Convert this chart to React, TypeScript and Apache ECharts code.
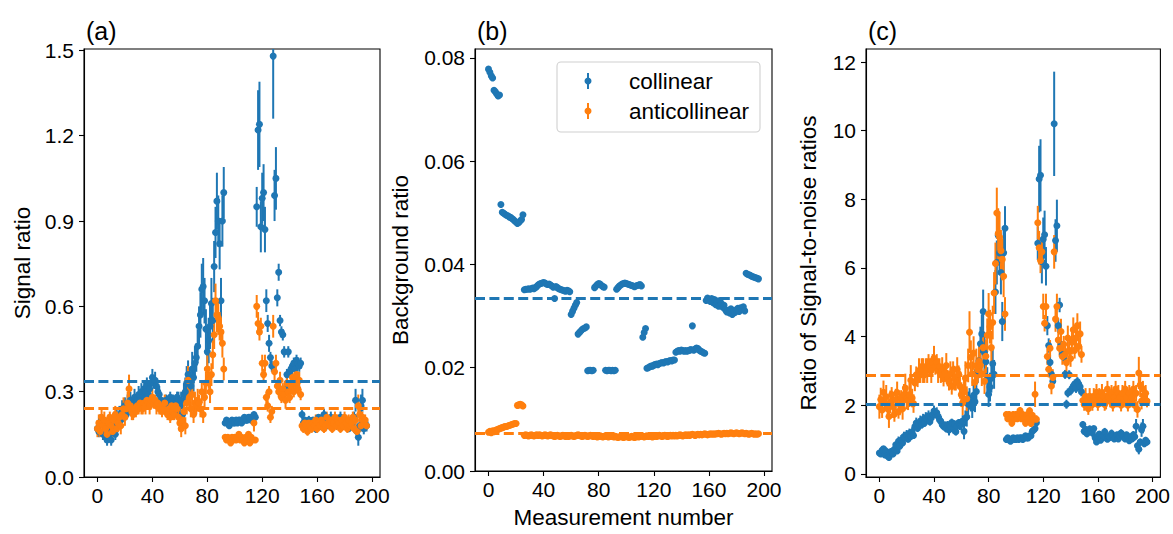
import React, { useEffect, useRef } from "react";
import * as echarts from "echarts";

// Measurement index runs 0..196 for every series.

// (a) Signal ratio
const signalCollinear = [
  0.17, 0.16, 0.19, 0.20, 0.15, 0.18, 0.14, 0.13, 0.17, 0.15,
  0.13, 0.16, 0.19, 0.15, 0.21, 0.18, 0.22, 0.20, 0.24, 0.23,
  0.25, 0.22, 0.26, 0.24, 0.27, 0.25, 0.26, 0.28, 0.25, 0.27,
  0.29, 0.27, 0.30, 0.28, 0.31, 0.30, 0.32, 0.29, 0.31, 0.33,
  0.35, 0.33, 0.34, 0.32, 0.30, 0.29, 0.27, 0.26, 0.26, 0.25,
  0.27, 0.24, 0.26, 0.28, 0.25, 0.27, 0.23, 0.26, 0.28, 0.27,
  0.25, 0.27, 0.22, 0.29, 0.30, 0.33, 0.36, 0.34, 0.32, 0.38,
  0.35, 0.40, 0.42, 0.46, 0.53, 0.57, 0.66, 0.67, 0.62, 0.52,
  0.44, 0.48, 0.53, 0.61, 0.55, 0.74, 0.86, 0.97, 0.90, 0.82,
  0.62, 0.90, 1.00, 0.19, 0.20, 0.19, 0.18, 0.19, 0.20, 0.19,
  0.19, 0.20, 0.19, 0.20, 0.20, 0.19, 0.20, 0.21, 0.20, 0.20,
  0.21, 0.21, 0.20, 0.21, 0.22, 0.21, 0.95, 1.22, 1.24, 0.88,
  0.98, 1.00, 0.87, 0.62, 0.54, 0.47, 0.42, 0.39, 1.48, 0.99,
  1.05, 0.63, 0.72, 0.55, 0.51, 0.50, 0.44, 0.31, 0.36, 0.44,
  0.37, 0.38, 0.39, 0.40, 0.38, 0.41, 0.40, 0.39, 0.40, 0.22,
  0.19, 0.20, 0.18, 0.19, 0.20, 0.19, 0.18, 0.20, 0.19, 0.17,
  0.20, 0.21, 0.18, 0.19, 0.20, 0.22, 0.19, 0.18, 0.20, 0.19,
  0.21, 0.20, 0.18, 0.19, 0.20, 0.18, 0.19, 0.21, 0.20, 0.19,
  0.18, 0.20, 0.19, 0.17, 0.19, 0.18, 0.20, 0.21, 0.27, 0.16,
  0.14, 0.18, 0.25, 0.27, 0.17, 0.19, 0.18,
];
const signalCollinearErr = [
  0.02, 0.02, 0.03, 0.02, 0.02, 0.03, 0.02, 0.02, 0.03, 0.02,
  0.02, 0.03, 0.02, 0.02, 0.03, 0.02, 0.03, 0.02, 0.03, 0.02,
  0.03, 0.02, 0.03, 0.02, 0.03, 0.02, 0.02, 0.03, 0.02, 0.02,
  0.03, 0.02, 0.03, 0.02, 0.03, 0.02, 0.03, 0.02, 0.02, 0.03,
  0.03, 0.02, 0.03, 0.02, 0.02, 0.03, 0.02, 0.02, 0.02, 0.02,
  0.02, 0.03, 0.02, 0.02, 0.03, 0.02, 0.02, 0.03, 0.02, 0.03,
  0.03, 0.03, 0.04, 0.04, 0.05, 0.06, 0.05, 0.04, 0.05, 0.06,
  0.05, 0.06, 0.05, 0.06, 0.07, 0.08, 0.09, 0.10, 0.08, 0.07,
  0.07, 0.08, 0.08, 0.09, 0.08, 0.09, 0.09, 0.10, 0.09, 0.09,
  0.08, 0.09, 0.09, 0.01, 0.01, 0.01, 0.01, 0.01, 0.01, 0.01,
  0.01, 0.01, 0.01, 0.01, 0.01, 0.01, 0.01, 0.01, 0.01, 0.01,
  0.01, 0.01, 0.01, 0.01, 0.01, 0.01, 0.07, 0.14, 0.15, 0.09,
  0.09, 0.10, 0.08, 0.04, 0.03, 0.03, 0.02, 0.02, 0.22, 0.09,
  0.11, 0.03, 0.03, 0.02, 0.02, 0.02, 0.02, 0.02, 0.02, 0.02,
  0.02, 0.02, 0.02, 0.02, 0.02, 0.02, 0.02, 0.02, 0.02, 0.015,
  0.015, 0.01, 0.015, 0.01, 0.015, 0.01, 0.015, 0.01, 0.015, 0.015,
  0.015, 0.01, 0.015, 0.015, 0.01, 0.02, 0.015, 0.01, 0.015, 0.015,
  0.02, 0.015, 0.01, 0.015, 0.015, 0.01, 0.015, 0.02, 0.015, 0.015,
  0.01, 0.015, 0.015, 0.01, 0.015, 0.015, 0.02, 0.02, 0.04, 0.02,
  0.03, 0.02, 0.04, 0.04, 0.02, 0.02, 0.02,
];
const signalAnti = [
  0.17, 0.19, 0.16, 0.21, 0.18, 0.20, 0.17, 0.15, 0.19, 0.21,
  0.18, 0.16, 0.20, 0.22, 0.17, 0.19, 0.21, 0.18, 0.22, 0.24,
  0.21, 0.24, 0.26, 0.31, 0.25, 0.23, 0.22, 0.24, 0.23, 0.25,
  0.24, 0.26, 0.25, 0.24, 0.26, 0.25, 0.27, 0.26, 0.25, 0.27,
  0.28, 0.26, 0.27, 0.25, 0.26, 0.24, 0.25, 0.23, 0.24, 0.26,
  0.23, 0.22, 0.24, 0.21, 0.25, 0.23, 0.22, 0.25, 0.24, 0.21,
  0.19, 0.17, 0.20, 0.23, 0.18, 0.26, 0.34, 0.28, 0.24, 0.29,
  0.22, 0.26, 0.25, 0.27, 0.26, 0.24, 0.30, 0.22, 0.28, 0.33,
  0.38, 0.35, 0.30, 0.36, 0.43, 0.50, 0.62, 0.57, 0.56, 0.53,
  0.51, 0.47, 0.38, 0.14, 0.13, 0.14, 0.13, 0.12, 0.14, 0.13,
  0.14, 0.13, 0.14, 0.15, 0.13, 0.14, 0.13, 0.12, 0.14, 0.13,
  0.15, 0.12, 0.14, 0.13, 0.19, 0.13, 0.60, 0.54, 0.51, 0.53,
  0.40, 0.36, 0.40, 0.28, 0.25, 0.30, 0.21, 0.23, 0.53, 0.37,
  0.40, 0.32, 0.30, 0.34, 0.28, 0.31, 0.29, 0.27, 0.33, 0.30,
  0.28, 0.32, 0.35, 0.30, 0.33, 0.36, 0.31, 0.34, 0.29, 0.18,
  0.17, 0.19, 0.18, 0.16, 0.19, 0.18, 0.17, 0.19, 0.18, 0.20,
  0.17, 0.19, 0.18, 0.20, 0.19, 0.17, 0.18, 0.21, 0.19, 0.18,
  0.20, 0.17, 0.19, 0.21, 0.18, 0.20, 0.19, 0.17, 0.20, 0.18,
  0.21, 0.19, 0.17, 0.20, 0.18, 0.19, 0.21, 0.17, 0.20, 0.16,
  0.25, 0.22, 0.18, 0.21, 0.19, 0.20, 0.18,
];
const signalAntiErr = [
  0.03, 0.03, 0.02, 0.03, 0.02, 0.03, 0.02, 0.03, 0.03, 0.02,
  0.03, 0.02, 0.03, 0.03, 0.02, 0.03, 0.02, 0.03, 0.03, 0.04,
  0.03, 0.03, 0.04, 0.05, 0.03, 0.03, 0.02, 0.02, 0.02, 0.03,
  0.02, 0.02, 0.03, 0.02, 0.02, 0.03, 0.02, 0.02, 0.03, 0.02,
  0.03, 0.02, 0.02, 0.03, 0.02, 0.02, 0.03, 0.02, 0.02, 0.03,
  0.02, 0.02, 0.03, 0.02, 0.02, 0.03, 0.02, 0.03, 0.02, 0.03,
  0.03, 0.03, 0.03, 0.04, 0.03, 0.04, 0.05, 0.04, 0.03, 0.04,
  0.03, 0.04, 0.03, 0.04, 0.03, 0.03, 0.04, 0.03, 0.04, 0.04,
  0.05, 0.04, 0.04, 0.04, 0.05, 0.05, 0.06, 0.06, 0.06, 0.05,
  0.05, 0.05, 0.04, 0.008, 0.008, 0.008, 0.008, 0.008, 0.008, 0.008,
  0.008, 0.008, 0.008, 0.008, 0.008, 0.008, 0.008, 0.008, 0.008, 0.008,
  0.008, 0.008, 0.008, 0.008, 0.03, 0.008, 0.04, 0.04, 0.03, 0.03,
  0.03, 0.02, 0.03, 0.02, 0.02, 0.02, 0.02, 0.02, 0.04, 0.03,
  0.03, 0.02, 0.02, 0.03, 0.02, 0.02, 0.02, 0.03, 0.03, 0.02,
  0.02, 0.03, 0.03, 0.02, 0.03, 0.03, 0.02, 0.03, 0.02, 0.015,
  0.015, 0.02, 0.015, 0.015, 0.02, 0.015, 0.015, 0.02, 0.015, 0.02,
  0.015, 0.02, 0.015, 0.02, 0.015, 0.015, 0.02, 0.02, 0.015, 0.015,
  0.02, 0.015, 0.015, 0.02, 0.015, 0.02, 0.015, 0.015, 0.02, 0.015,
  0.02, 0.015, 0.015, 0.02, 0.015, 0.02, 0.02, 0.015, 0.02, 0.02,
  0.04, 0.03, 0.02, 0.02, 0.02, 0.02, 0.015,
];

// (b) Background ratio
const backgroundCollinear = [
  0.0778, 0.0772, 0.0765, 0.0761, 0.0737, 0.0734, 0.0730, 0.0726, 0.0728, 0.0516,
  0.0501, 0.0499, 0.0497, 0.0495, 0.0494, 0.0492, 0.0491, 0.0489, 0.0487, 0.0484,
  0.0482, 0.0479, 0.0481, 0.0484, 0.0487, 0.0496, 0.0351, 0.0352, 0.0352, 0.0353,
  0.0352, 0.0353, 0.0354, 0.0353, 0.0355, 0.0357, 0.0360, 0.0362, 0.0363, 0.0364,
  0.0365, 0.0364, 0.0362, 0.0361, 0.0362, 0.0360, 0.0358, 0.0356, 0.0334, 0.0357,
  0.0355, 0.0353, 0.0352, 0.0351, 0.0350, 0.0349, 0.0348, 0.0350, 0.0349, 0.0347,
  0.0303, 0.0309, 0.0315, 0.0321, 0.0326, 0.0265, 0.0268, 0.0271, 0.0274, 0.0276,
  0.0277, 0.0279, 0.0194, 0.0195, 0.0195, 0.0194, 0.0195, 0.0355, 0.0358, 0.0361,
  0.0363, 0.0362, 0.0359, 0.0357, 0.0356, 0.0195, 0.0194, 0.0195, 0.0195, 0.0194,
  0.0195, 0.0194, 0.0195, 0.0352, 0.0355, 0.0358, 0.0360, 0.0362, 0.0363, 0.0364,
  0.0363, 0.0362, 0.0361, 0.0360, 0.0359, 0.0358, 0.0357, 0.0358, 0.0359, 0.0360,
  0.0361, 0.0358, 0.0259, 0.0268, 0.0276, 0.0199, 0.0200, 0.0202, 0.0203, 0.0203,
  0.0205, 0.0206, 0.0207, 0.0206, 0.0208, 0.0209, 0.0210, 0.0209, 0.0211, 0.0212,
  0.0211, 0.0213, 0.0214, 0.0213, 0.0215, 0.0215, 0.0230, 0.0232, 0.0233, 0.0232,
  0.0234, 0.0233, 0.0232, 0.0233, 0.0232, 0.0233, 0.0234, 0.0235, 0.0281, 0.0234,
  0.0236, 0.0238, 0.0237, 0.0234, 0.0232, 0.0231, 0.0229, 0.0228, 0.0330, 0.0335,
  0.0331, 0.0328, 0.0334, 0.0326, 0.0332, 0.0322, 0.0329, 0.0319, 0.0330, 0.0324,
  0.0317, 0.0321, 0.0312, 0.0308, 0.0311, 0.0306, 0.0314, 0.0303, 0.0310, 0.0307,
  0.0312, 0.0315, 0.0309, 0.0316, 0.0313, 0.0318, 0.0310, 0.0383, 0.0381, 0.0380,
  0.0379, 0.0377, 0.0376, 0.0375, 0.0374, 0.0373, 0.0372,
];
const backgroundAnti = [
  0.0075, 0.0077, 0.0074, 0.0078, 0.0076, 0.0079, 0.0080, 0.0081, 0.0082, 0.0083,
  0.0084, 0.0085, 0.0086, 0.0086, 0.0087, 0.0088, 0.0089, 0.0090, 0.0091, 0.0092,
  0.0092, 0.0127, 0.0128, 0.0129, 0.0128, 0.0126, 0.0069, 0.0070, 0.0069, 0.0068,
  0.0069, 0.0070, 0.0069, 0.0068, 0.0069, 0.0070, 0.0069, 0.0070, 0.0069, 0.0068,
  0.0069, 0.0070, 0.0069, 0.0068, 0.0069, 0.0070, 0.0069, 0.0068, 0.0067, 0.0068,
  0.0069, 0.0068, 0.0067, 0.0068, 0.0069, 0.0068, 0.0067, 0.0068, 0.0067, 0.0068,
  0.0069, 0.0068, 0.0067, 0.0068, 0.0069, 0.0070, 0.0069, 0.0068, 0.0067, 0.0068,
  0.0069, 0.0068, 0.0067, 0.0068, 0.0069, 0.0068, 0.0067, 0.0068, 0.0067, 0.0066,
  0.0067, 0.0068, 0.0067, 0.0066, 0.0067, 0.0068, 0.0067, 0.0066, 0.0067, 0.0068,
  0.0067, 0.0066, 0.0067, 0.0066, 0.0065, 0.0066, 0.0067, 0.0066, 0.0065, 0.0066,
  0.0067, 0.0066, 0.0065, 0.0066, 0.0067, 0.0066, 0.0065, 0.0066, 0.0067, 0.0066,
  0.0067, 0.0068, 0.0067, 0.0066, 0.0067, 0.0068, 0.0067, 0.0068, 0.0067, 0.0066,
  0.0067, 0.0068, 0.0067, 0.0068, 0.0069, 0.0068, 0.0067, 0.0068, 0.0069, 0.0068,
  0.0067, 0.0068, 0.0069, 0.0068, 0.0069, 0.0068, 0.0069, 0.0068, 0.0069, 0.0070,
  0.0069, 0.0068, 0.0069, 0.0070, 0.0069, 0.0070, 0.0069, 0.0070, 0.0071, 0.0070,
  0.0069, 0.0070, 0.0071, 0.0070, 0.0071, 0.0070, 0.0071, 0.0072, 0.0071, 0.0070,
  0.0071, 0.0072, 0.0071, 0.0072, 0.0071, 0.0072, 0.0072, 0.0073, 0.0072, 0.0071,
  0.0072, 0.0073, 0.0072, 0.0073, 0.0072, 0.0073, 0.0074, 0.0073, 0.0072, 0.0073,
  0.0074, 0.0073, 0.0072, 0.0073, 0.0074, 0.0073, 0.0072, 0.0073, 0.0072, 0.0071,
  0.0072, 0.0073, 0.0072, 0.0071, 0.0072, 0.0071, 0.0072,
];

// (c) Ratio of signal-to-noise ratios
const snrCollinear = [
  0.61, 0.58, 0.69, 0.73, 0.55, 0.66, 0.52, 0.48, 0.63, 0.66,
  0.58, 0.72, 0.85, 0.67, 0.95, 0.81, 0.99, 0.90, 1.09, 1.05,
  1.14, 1.01, 1.18, 1.09, 1.22, 1.12, 1.38, 1.48, 1.33, 1.43,
  1.54, 1.43, 1.59, 1.48, 1.64, 1.59, 1.69, 1.52, 1.63, 1.73,
  1.83, 1.73, 1.78, 1.68, 1.58, 1.53, 1.43, 1.38, 1.42, 1.32,
  1.43, 1.28, 1.39, 1.50, 1.34, 1.45, 1.23, 1.39, 1.49, 1.44,
  1.44, 1.54, 1.24, 1.62, 1.66, 2.03, 2.20, 2.06, 1.93, 2.29,
  2.10, 2.40, 3.01, 3.29, 3.79, 4.08, 4.73, 3.53, 3.27, 2.74,
  2.32, 2.53, 2.79, 3.21, 2.90, 5.30, 6.16, 6.95, 6.44, 5.87,
  4.44, 6.44, 7.16, 1.00, 1.05, 1.00, 0.95, 1.00, 1.05, 1.00,
  1.00, 1.05, 1.00, 1.05, 1.05, 1.00, 1.05, 1.11, 1.05, 1.05,
  1.11, 1.11, 1.24, 1.28, 1.32, 1.49, 6.72, 8.59, 8.70, 6.18,
  6.84, 6.97, 6.05, 4.32, 3.74, 3.25, 2.90, 2.70, 10.2, 6.80,
  7.23, 4.32, 4.92, 3.77, 3.48, 3.41, 2.90, 2.03, 2.36, 2.89,
  2.42, 2.49, 2.56, 2.62, 2.49, 2.69, 2.62, 2.54, 2.39, 1.44,
  1.24, 1.30, 1.17, 1.24, 1.31, 1.25, 1.19, 1.32, 1.05, 0.93,
  1.10, 1.16, 0.98, 1.05, 1.10, 1.23, 1.05, 1.01, 1.10, 1.06,
  1.18, 1.12, 1.02, 1.08, 1.14, 1.02, 1.08, 1.19, 1.14, 1.08,
  1.02, 1.14, 1.08, 0.97, 1.08, 1.02, 1.14, 1.08, 1.39, 0.82,
  0.72, 0.93, 1.29, 1.39, 0.88, 0.98, 0.93,
];
const snrCollinearErr = [
  0.07, 0.07, 0.11, 0.07, 0.07, 0.11, 0.07, 0.07, 0.11, 0.09,
  0.09, 0.14, 0.09, 0.09, 0.14, 0.09, 0.14, 0.09, 0.14, 0.09,
  0.14, 0.09, 0.14, 0.09, 0.14, 0.09, 0.11, 0.16, 0.11, 0.11,
  0.16, 0.11, 0.16, 0.11, 0.16, 0.11, 0.16, 0.11, 0.11, 0.16,
  0.16, 0.11, 0.16, 0.11, 0.11, 0.16, 0.11, 0.11, 0.11, 0.11,
  0.11, 0.16, 0.11, 0.11, 0.16, 0.11, 0.11, 0.16, 0.11, 0.16,
  0.17, 0.17, 0.23, 0.23, 0.28, 0.37, 0.30, 0.24, 0.30, 0.37,
  0.30, 0.37, 0.36, 0.43, 0.50, 0.57, 0.64, 0.53, 0.42, 0.37,
  0.37, 0.42, 0.42, 0.47, 0.42, 0.64, 0.64, 0.72, 0.64, 0.64,
  0.57, 0.64, 0.64, 0.05, 0.05, 0.05, 0.05, 0.05, 0.05, 0.05,
  0.05, 0.05, 0.05, 0.05, 0.05, 0.05, 0.05, 0.05, 0.05, 0.05,
  0.05, 0.05, 0.06, 0.06, 0.06, 0.07, 0.49, 0.97, 1.05, 0.63,
  0.63, 0.70, 0.56, 0.28, 0.21, 0.21, 0.14, 0.14, 1.52, 0.62,
  0.76, 0.21, 0.21, 0.14, 0.14, 0.14, 0.13, 0.13, 0.13, 0.13,
  0.13, 0.13, 0.13, 0.13, 0.13, 0.13, 0.13, 0.13, 0.13, 0.10,
  0.10, 0.07, 0.10, 0.07, 0.10, 0.07, 0.10, 0.07, 0.08, 0.08,
  0.08, 0.06, 0.08, 0.08, 0.06, 0.11, 0.08, 0.06, 0.08, 0.08,
  0.11, 0.08, 0.06, 0.09, 0.09, 0.06, 0.09, 0.11, 0.09, 0.09,
  0.06, 0.09, 0.09, 0.06, 0.09, 0.09, 0.11, 0.10, 0.21, 0.10,
  0.15, 0.10, 0.21, 0.21, 0.10, 0.10, 0.10,
];
const snrAnti = [
  1.96, 2.17, 1.86, 2.38, 2.06, 2.25, 1.90, 1.67, 2.10, 2.31,
  1.96, 1.74, 2.16, 2.37, 1.82, 2.03, 2.23, 1.90, 2.31, 2.50,
  2.19, 2.13, 2.30, 2.73, 2.21, 2.05, 2.65, 2.89, 2.77, 3.01,
  2.89, 3.13, 3.01, 2.89, 3.13, 3.01, 3.25, 3.13, 3.01, 3.25,
  3.37, 3.13, 3.25, 3.01, 3.13, 2.89, 3.04, 2.79, 2.92, 3.16,
  2.79, 2.67, 2.92, 2.55, 3.04, 2.79, 2.67, 3.04, 2.92, 2.55,
  2.31, 2.07, 2.43, 2.79, 2.19, 3.16, 4.13, 3.40, 2.92, 3.52,
  2.67, 3.16, 3.04, 3.28, 3.16, 2.92, 3.68, 2.70, 3.43, 4.04,
  4.66, 4.29, 3.68, 4.41, 5.27, 6.13, 7.60, 7.00, 6.90, 6.50,
  6.25, 5.76, 4.66, 1.73, 1.61, 1.73, 1.61, 1.48, 1.73, 1.61,
  1.73, 1.61, 1.73, 1.85, 1.61, 1.73, 1.61, 1.48, 1.72, 1.60,
  1.84, 1.47, 1.71, 1.59, 2.32, 1.59, 7.32, 6.59, 6.22, 6.47,
  4.88, 4.39, 4.88, 3.42, 3.05, 3.66, 2.56, 2.81, 6.47, 4.51,
  4.88, 3.90, 3.66, 4.15, 3.42, 3.78, 3.48, 3.24, 3.96, 3.60,
  3.36, 3.84, 4.20, 3.60, 3.96, 4.32, 3.72, 4.08, 3.48, 2.14,
  2.02, 2.26, 2.14, 1.90, 2.26, 2.14, 2.02, 2.26, 2.14, 2.38,
  2.02, 2.26, 2.14, 2.38, 2.26, 2.02, 2.12, 2.47, 2.23, 2.12,
  2.35, 2.00, 2.23, 2.47, 2.12, 2.35, 2.23, 2.00, 2.35, 2.12,
  2.47, 2.23, 2.00, 2.35, 2.12, 2.23, 2.47, 2.00, 2.35, 1.88,
  2.94, 2.59, 2.12, 2.47, 2.23, 2.35, 2.12,
];
const snrAntiErr = [
  0.35, 0.34, 0.23, 0.34, 0.23, 0.34, 0.22, 0.33, 0.33, 0.22,
  0.33, 0.22, 0.32, 0.32, 0.21, 0.32, 0.21, 0.32, 0.31, 0.42,
  0.31, 0.27, 0.35, 0.44, 0.27, 0.27, 0.24, 0.24, 0.24, 0.36,
  0.24, 0.24, 0.36, 0.24, 0.24, 0.36, 0.24, 0.24, 0.36, 0.24,
  0.36, 0.24, 0.24, 0.36, 0.24, 0.24, 0.36, 0.24, 0.24, 0.36,
  0.24, 0.24, 0.36, 0.24, 0.24, 0.36, 0.24, 0.36, 0.24, 0.36,
  0.36, 0.36, 0.36, 0.49, 0.36, 0.49, 0.61, 0.49, 0.36, 0.49,
  0.36, 0.49, 0.36, 0.49, 0.36, 0.36, 0.49, 0.37, 0.49, 0.49,
  0.61, 0.49, 0.49, 0.49, 0.61, 0.61, 0.74, 0.74, 0.74, 0.61,
  0.61, 0.61, 0.49, 0.10, 0.10, 0.10, 0.10, 0.10, 0.10, 0.10,
  0.10, 0.10, 0.10, 0.10, 0.10, 0.10, 0.10, 0.10, 0.10, 0.10,
  0.10, 0.10, 0.10, 0.10, 0.37, 0.12, 0.49, 0.49, 0.37, 0.37,
  0.37, 0.24, 0.37, 0.24, 0.24, 0.24, 0.24, 0.24, 0.49, 0.37,
  0.37, 0.24, 0.24, 0.37, 0.24, 0.24, 0.24, 0.36, 0.36, 0.24,
  0.24, 0.36, 0.36, 0.24, 0.36, 0.36, 0.24, 0.36, 0.24, 0.18,
  0.18, 0.24, 0.18, 0.18, 0.24, 0.18, 0.18, 0.24, 0.18, 0.24,
  0.18, 0.24, 0.18, 0.24, 0.18, 0.18, 0.24, 0.24, 0.18, 0.18,
  0.24, 0.18, 0.18, 0.24, 0.18, 0.24, 0.18, 0.18, 0.24, 0.18,
  0.24, 0.18, 0.18, 0.24, 0.18, 0.24, 0.24, 0.18, 0.24, 0.24,
  0.47, 0.35, 0.24, 0.24, 0.24, 0.24, 0.18,
];

// Mean levels drawn as dashed horizontal lines
const signalMeans = [0.335, 0.24];
const backgroundMeans = [0.0334, 0.0073];
const snrMeans = [2.04, 2.86];

// Axis ticks
const xTicks = [0, 40, 80, 120, 160, 200];
const signalTicks = [0, 0.3, 0.6, 0.9, 1.2, 1.5];
const backgroundTicks = [0, 0.02, 0.04, 0.06, 0.08];
const snrTicks = [0, 2, 4, 6, 8, 10, 12];

const seriesNames = ["collinear", "anticollinear"];
const panelLabels = ["(a)", "(b)", "(c)"];

const BLUE = "#1f77b4";
const ORANGE = "#ff7f0e";
const FONT = '"Liberation Sans", Arial, Helvetica, sans-serif';
const TICK_FS = 21;
const LABEL_FS = 22.5;
const TITLE_FS = 25;

const GRIDS = [
  { left: 84, top: 49, width: 296, height: 428 },
  { left: 475, top: 49, width: 297, height: 428 },
  { left: 866, top: 49, width: 296, height: 428 },
];

const toPoints = (vals: number[]) => vals.map((v, i) => [i, v]);
const toBars = (vals: number[], errs: number[]) =>
  vals.map((v, i) => [i, v - errs[i], v + errs[i]]);

function errorBars(panel: number, vals: number[], errs: number[], color: string, name: string) {
  return {
    type: "custom",
    name,
    xAxisIndex: panel,
    yAxisIndex: panel,
    clip: true,
    silent: true,
    encode: { x: 0, y: [1, 2] },
    data: toBars(vals, errs),
    renderItem: (_params: any, api: any) => {
      const lo = api.coord([api.value(0), api.value(1)]);
      const hi = api.coord([api.value(0), api.value(2)]);
      return {
        type: "line",
        shape: { x1: lo[0], y1: lo[1], x2: hi[0], y2: hi[1] },
        style: { stroke: color, lineWidth: 2 },
      };
    },
  };
}

function dots(panel: number, vals: number[], color: string, name: string, means?: number[]) {
  const s: any = {
    type: "scatter",
    name,
    xAxisIndex: panel,
    yAxisIndex: panel,
    clip: true,
    silent: true,
    symbol: "circle",
    symbolSize: 7,
    itemStyle: { color, opacity: 1 },
    data: toPoints(vals),
  };
  if (means) {
    s.markLine = {
      silent: true,
      symbol: "none",
      precision: 6,
      animation: false,
      label: { show: false },
      emphasis: { disabled: true },
      data: [
        { yAxis: means[0], lineStyle: { color: BLUE, width: 2.8, type: [10, 4.4], opacity: 1 } },
        { yAxis: means[1], lineStyle: { color: ORANGE, width: 2.8, type: [10, 4.4], opacity: 1 } },
      ],
    };
  }
  return s;
}

function xAxis(panel: number, name?: string) {
  return {
    type: "value",
    gridIndex: panel,
    min: -9.8,
    max: 205.8,
    name: name || "",
    nameLocation: "middle",
    nameGap: 35,
    nameTextStyle: { color: "#000", fontSize: LABEL_FS, fontFamily: FONT },
    axisLine: { show: true, onZero: false, lineStyle: { color: "#000", width: 1.1 } },
    axisTick: { show: true, length: 5, lineStyle: { color: "#000", width: 1.1 }, customValues: xTicks },
    axisLabel: {
      color: "#000",
      fontSize: TICK_FS,
      fontFamily: FONT,
      margin: 8,
      customValues: xTicks,
      formatter: (v: number) => String(v),
    },
    splitLine: { show: false },
  };
}

function yAxis(panel: number, min: number, max: number, ticks: number[], digits: number, name: string, gap: number) {
  return {
    type: "value",
    gridIndex: panel,
    min,
    max,
    name,
    nameLocation: "middle",
    nameGap: gap,
    nameTextStyle: { color: "#000", fontSize: LABEL_FS, fontFamily: FONT },
    axisLine: { show: true, onZero: false, lineStyle: { color: "#000", width: 1.1 } },
    axisTick: { show: true, length: 5, lineStyle: { color: "#000", width: 1.1 }, customValues: ticks },
    axisLabel: {
      color: "#000",
      fontSize: TICK_FS,
      fontFamily: FONT,
      margin: 10,
      customValues: ticks,
      formatter: (v: number) => v.toFixed(digits),
    },
    splitLine: { show: false },
  };
}

function legendGraphic() {
  const box = { left: 557, top: 62, width: 203, height: 70 };
  const rows = [
    { name: seriesNames[0], color: BLUE, cy: 81 },
    { name: seriesNames[1], color: ORANGE, cy: 111 },
  ];
  const items: any[] = [
    {
      type: "rect",
      shape: { x: box.left, y: box.top, width: box.width, height: box.height, r: 4 },
      style: { fill: "rgba(255,255,255,0.8)", stroke: "#d0d0d0", lineWidth: 1.1 },
      z: 100,
    },
  ];
  rows.forEach((r) => {
    items.push({
      type: "line",
      shape: { x1: 588, y1: r.cy - 8, x2: 588, y2: r.cy + 8 },
      style: { stroke: r.color, lineWidth: 2 },
      z: 101,
    });
    items.push({
      type: "circle",
      shape: { cx: 588, cy: r.cy, r: 3.5 },
      style: { fill: r.color },
      z: 102,
    });
    items.push({
      type: "text",
      x: 629,
      y: r.cy,
      style: { text: r.name, fill: "#000", font: `${LABEL_FS}px ${FONT}`, align: "left", verticalAlign: "middle" },
      z: 102,
    });
  });
  return items;
}

export default function App() {
  const ref = useRef<HTMLDivElement>(null);

  useEffect(() => {
    if (!ref.current) return;
    const chart = echarts.init(ref.current, null, { renderer: "svg" });

    const titles = panelLabels.map((t, i) => ({
      type: "text",
      x: GRIDS[i].left + 2,
      y: 31,
      style: { text: t, fill: "#000", font: `${TITLE_FS}px ${FONT}`, align: "left", verticalAlign: "middle" },
    }));

    const option: any = {
      animation: false,
      backgroundColor: "#fff",
      grid: GRIDS.map((g) => ({
        ...g,
        show: true,
        borderColor: "#000",
        borderWidth: 1.1,
        backgroundColor: "transparent",
      })),
      xAxis: [xAxis(0), xAxis(1, "Measurement number"), xAxis(2)],
      yAxis: [
        yAxis(0, 0, 1.505, signalTicks, 1, "Signal ratio", 50),
        yAxis(1, 0, 0.0817, backgroundTicks, 2, "Background ratio", 63),
        yAxis(2, -0.09, 12.38, snrTicks, 0, "Ratio of Signal-to-noise ratios", 46),
      ],
      series: [
        errorBars(0, signalCollinear, signalCollinearErr, BLUE, seriesNames[0]),
        dots(0, signalCollinear, BLUE, seriesNames[0]),
        errorBars(0, signalAnti, signalAntiErr, ORANGE, seriesNames[1]),
        dots(0, signalAnti, ORANGE, seriesNames[1], signalMeans),

        dots(1, backgroundCollinear, BLUE, seriesNames[0]),
        dots(1, backgroundAnti, ORANGE, seriesNames[1], backgroundMeans),

        errorBars(2, snrCollinear, snrCollinearErr, BLUE, seriesNames[0]),
        dots(2, snrCollinear, BLUE, seriesNames[0]),
        errorBars(2, snrAnti, snrAntiErr, ORANGE, seriesNames[1]),
        dots(2, snrAnti, ORANGE, seriesNames[1], snrMeans),
      ],
      graphic: [...titles, ...legendGraphic()],
    };

    chart.setOption(option);
    return () => chart.dispose();
  }, []);

  return (
    <div
      ref={ref}
      style={{ position: "absolute", left: 0, top: 0, width: 1173, height: 534, background: "#fff" }}
    />
  );
}
